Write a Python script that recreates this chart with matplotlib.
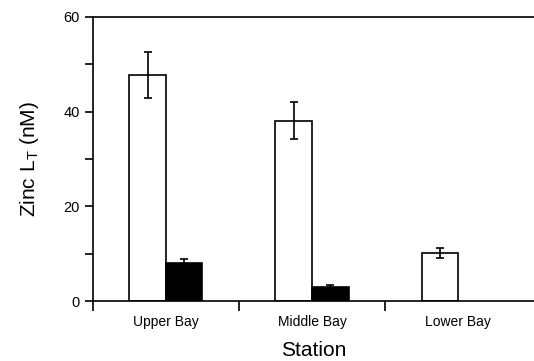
import numpy as np
import matplotlib.pyplot as plt

plt.rcParams['font.family'] = ['Liberation Sans', 'DejaVu Sans']

stations = ['Upper Bay', 'Middle Bay', 'Lower Bay']
white_vals = [47.7, 38.1, 10.1]
white_err = [4.8, 3.9, 1.05]
black_vals = [8.0, 3.0, 0.0]
black_err = [0.9, 0.4, 0.0]

fig = plt.figure(figsize=(5.34, 3.61), dpi=100)
ax = fig.add_axes([0.174, 0.166, 0.826, 0.787])

ind = np.arange(len(stations)) + 0.5
w = 0.25

ax.bar(ind - w / 2, white_vals, w, color='white', edgecolor='black', linewidth=1.2,
       yerr=white_err, error_kw=dict(ecolor='black', elinewidth=1.2, capsize=3, capthick=1.2))
ax.bar(ind[:2] + w / 2, black_vals[:2], w, color='black', edgecolor='black', linewidth=1.2,
       yerr=black_err[:2], error_kw=dict(ecolor='black', elinewidth=1.2, capsize=3, capthick=1.2))

ax.set_xlim(0, 3.02)
ax.set_ylim(0, 60)
ax.spines['right'].set_visible(False)
for s in ['left', 'bottom', 'top']:
    ax.spines[s].set_linewidth(1.2)

ax.set_yticks([0, 20, 40, 60])
ax.set_yticks([10, 30, 50], minor=True)
ax.tick_params(axis='y', which='both', direction='out', length=6, width=1.2, labelsize=10.5)

# category labels between boundary ticks
ax.set_xticks([0, 1, 2])
ax.set_xticklabels([])
ax.set_xticks(ind, minor=True)
ax.set_xticklabels(stations, minor=True, fontsize=10)
ax.tick_params(axis='x', which='major', direction='out', length=7, width=1.2)
ax.tick_params(axis='x', which='minor', length=0, pad=10)

ax.set_ylabel('Zinc L$_\\mathregular{T}$ (nM)', fontsize=15, labelpad=16)
ax.set_xlabel('Station', fontsize=15, labelpad=9)

fig.savefig('out.png', dpi=100)
